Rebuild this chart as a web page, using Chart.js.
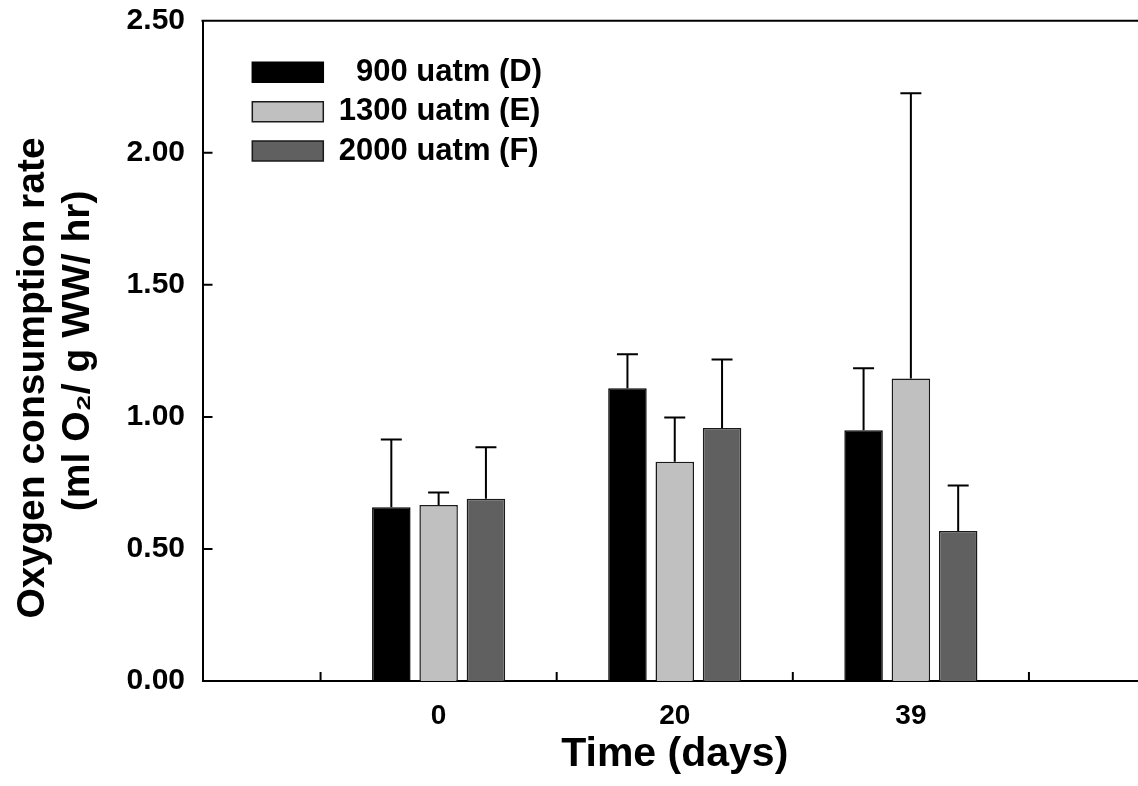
<!DOCTYPE html>
<html><head><meta charset="utf-8">
<script src="https://cdn.jsdelivr.net/npm/chart.js@4.4.1/dist/chart.umd.min.js"></script>
<style>
html,body{margin:0;padding:0;overflow:hidden;background:#fff;width:1138px;height:786px}
#wrap{position:relative;width:1147px;height:786px}
</style>
</head><body><div id="wrap"><canvas id="c"></canvas></div>
<script>
// ---- data ----
const days = ['0', '20', '39'];
const seriesNames = ['  900 uatm (D)', '1300 uatm (E)', '2000 uatm (F)'];
const valuesD = [0.658, 1.108, 0.949];
const errorsD = [0.256, 0.129, 0.235];
const valuesE = [0.666, 0.830, 1.145];
const errorsE = [0.048, 0.168, 1.080];
const valuesF = [0.690, 0.958, 0.568];
const errorsF = [0.195, 0.259, 0.172];
const yTicks = [0, 0.5, 1.0, 1.5, 2.0, 2.5];
const xTitle = 'Time (days)';
const yTitle = ['Oxygen consumption rate     ', '(ml O\u2082/ g WW/ hr)'];

// ---- build ----
const FAMILY = "'Liberation Sans', Arial, Helvetica, sans-serif";
const labels = ['', ...days, ''];
const pad = a => [null, ...a, null];

const colors = [
  {bg: '#000000', bd: '#000000'},
  {bg: '#c0c0c0', bd: '#1a1a1a'},
  {bg: '#606060', bd: '#1a1a1a'}
];
const vals = [valuesD, valuesE, valuesF];
const errs = [errorsD, errorsE, errorsF];

const datasets = seriesNames.map((name, i) => ({
  label: name,
  data: pad(vals[i]),
  errors: pad(errs[i]),
  backgroundColor: colors[i].bg,
  borderColor: colors[i].bd,
  borderWidth: 1.5,
  barPercentage: 0.814,
  categoryPercentage: 0.601
}));

const decor = {
  id: 'decor',
  afterLayout(chart) {
    const lg = chart.legend, a = chart.chartArea;
    if (lg) {
      const w = lg.width, h = lg.height;
      lg.left = a.left + 41.45; lg.right = lg.left + w;
      lg.top = a.top + 27.75; lg.bottom = lg.top + h;
    }
  },
  afterDatasetsDraw(chart) {
    const ctx = chart.ctx, ys = chart.scales.y;
    ctx.save();
    ctx.strokeStyle = '#000';
    ctx.lineWidth = 2;
    chart.data.datasets.forEach((ds, di) => {
      const meta = chart.getDatasetMeta(di);
      meta.data.forEach((bar, i) => {
        const v = ds.data[i], e = ds.errors[i];
        if (v == null || e == null) return;
        const x = bar.x;
        const y0 = ys.getPixelForValue(v);
        const y1 = ys.getPixelForValue(v + e);
        ctx.beginPath();
        ctx.moveTo(x, y0); ctx.lineTo(x, y1);
        ctx.moveTo(x - 10.5, y1); ctx.lineTo(x + 10.5, y1);
        ctx.stroke();
      });
    });
    ctx.restore();
  },
  afterDraw(chart) {
    const ctx = chart.ctx, a = chart.chartArea;
    const xs = chart.scales.x, ys = chart.scales.y;
    ctx.save();
    ctx.strokeStyle = '#000';
    ctx.lineWidth = 2;
    ctx.beginPath();
    // top frame line
    ctx.moveTo(a.left - 1, a.top); ctx.lineTo(a.right, a.top);
    // y ticks (inward)
    ys.ticks.forEach(t => {
      const p = ys.getPixelForValue(t.value);
      ctx.moveTo(a.left, p); ctx.lineTo(a.left + 10, p);
    });
    // x ticks between categories (inward)
    for (let i = 0; i < labels.length - 1; i++) {
      const p = (xs.getPixelForValue(i) + xs.getPixelForValue(i + 1)) / 2;
      ctx.moveTo(p, a.bottom); ctx.lineTo(p, a.bottom - 9);
    }
    ctx.stroke();
    ctx.restore();
  }
};

new Chart(document.getElementById('c'), {
  type: 'bar',
  data: {labels, datasets},
  plugins: [decor],
  options: {
    responsive: true,
    maintainAspectRatio: false,
    animation: false,
    events: [],
    layout: {padding: {top: 20.7, right: 0, bottom: 0, left: 0}},
    plugins: {
      tooltip: {enabled: false},
      title: {display: false},
      legend: {
        display: true,
        position: 'chartArea',
        align: 'start',
        labels: {
          boxWidth: 71,
          boxHeight: 20,
          padding: 8.35,
          color: '#000',
          font: {family: FAMILY, size: 31, weight: 'bold'}
        }
      }
    },
    scales: {
      x: {
        type: 'category',
        offset: false,
        grid: {display: false, drawTicks: false},
        border: {display: true, color: '#000', width: 2},
        ticks: {
          color: '#000',
          padding: 18.7,
          maxRotation: 0,
          autoSkip: false,
          font: {family: FAMILY, size: 28, weight: 'bold'}
        },
        title: {
          display: true,
          text: xTitle,
          color: '#000',
          font: {family: FAMILY, size: 41, weight: 'bold', lineHeight: 1.2},
          padding: {top: 0, bottom: 7}
        },
        afterFit(s) { s.height = 105; s.paddingLeft = 0; s.paddingRight = 0; }
      },
      y: {
        min: 0,
        max: 2.5,
        grid: {display: false, drawTicks: false},
        border: {display: true, color: '#000', width: 2},
        afterBuildTicks(s) { s.ticks = yTicks.map(v => ({value: v})); },
        ticks: {
          color: '#000',
          padding: 17.5,
          callback: v => Number(v).toFixed(2),
          font: {family: FAMILY, size: 30, weight: 'bold'}
        },
        title: {
          display: true,
          text: yTitle,
          color: '#000',
          font: {family: FAMILY, size: 39, weight: 'bold', lineHeight: 1.15},
          padding: {top: 11, bottom: 10}
        },
        afterFit(s) { s.width = 202.5; s.paddingTop = 0; s.paddingBottom = 0; }
      }
    }
  }
});
</script>
</body></html>
